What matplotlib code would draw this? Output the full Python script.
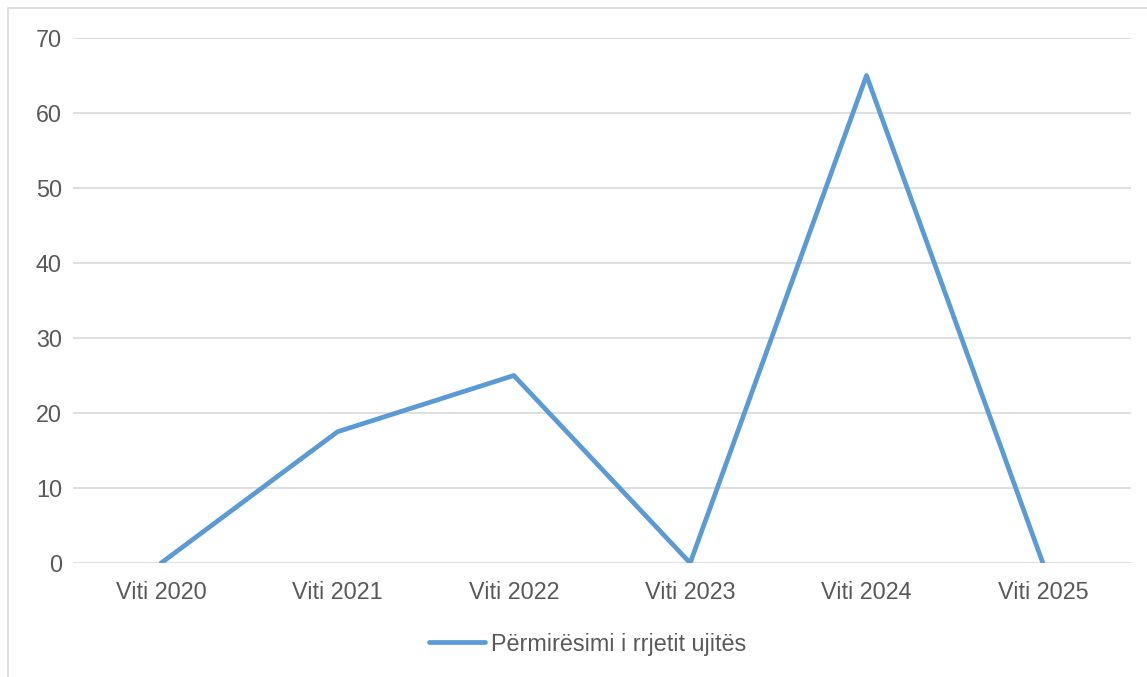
import matplotlib.pyplot as plt
from matplotlib.patches import Rectangle

plt.rcParams['font.family'] = ['Liberation Sans', 'DejaVu Sans']

categories = ["Viti 2020", "Viti 2021", "Viti 2022", "Viti 2023", "Viti 2024", "Viti 2025"]
values = [0, 17.5, 25, 0, 65, 0]
series_name = "Përmirësimi i rrjetit ujitës"

text_color = "#595959"
line_color = "#5b9bd5"
grid_color = "#d9d9d9"

fig = plt.figure(figsize=(11.47, 6.77), dpi=100)
ax = fig.add_axes([73 / 1147, 1 - 563 / 677, (1131 - 73) / 1147, (563 - 38) / 677])

x = list(range(len(categories)))
ax.plot(x, values, color=line_color, linewidth=3.4, solid_capstyle="round",
        solid_joinstyle="round", label=series_name, zorder=3)

ax.set_xlim(-0.5, len(categories) - 0.5)
ax.set_ylim(0, 70)
ax.set_yticks(range(0, 71, 10))
ax.set_xticks(x)
ax.set_xticklabels(categories)
ax.tick_params(axis="both", length=0, labelsize=16.8, colors=text_color)
ax.tick_params(axis="x", pad=13)
ax.tick_params(axis="y", pad=8)
ax.grid(axis="y", color=grid_color, linewidth=1.2)
ax.set_axisbelow(True)
for s in ax.spines.values():
    s.set_visible(False)

# outer chart border (only top/left visible in the crop)
fig.patches.append(Rectangle((8 / 1147, -0.1), 1.2, 1 - 8 / 677 + 0.1,
                             transform=fig.transFigure, fill=False,
                             edgecolor=grid_color, linewidth=1.2))

leg = fig.legend(loc="center", bbox_to_anchor=(588 / 1147, 1 - 644 / 677),
                 frameon=False, fontsize=16.8, handlelength=2.4, handletextpad=0.25)
for t in leg.get_texts():
    t.set_color(text_color)

fig.savefig("out.png", dpi=100)
